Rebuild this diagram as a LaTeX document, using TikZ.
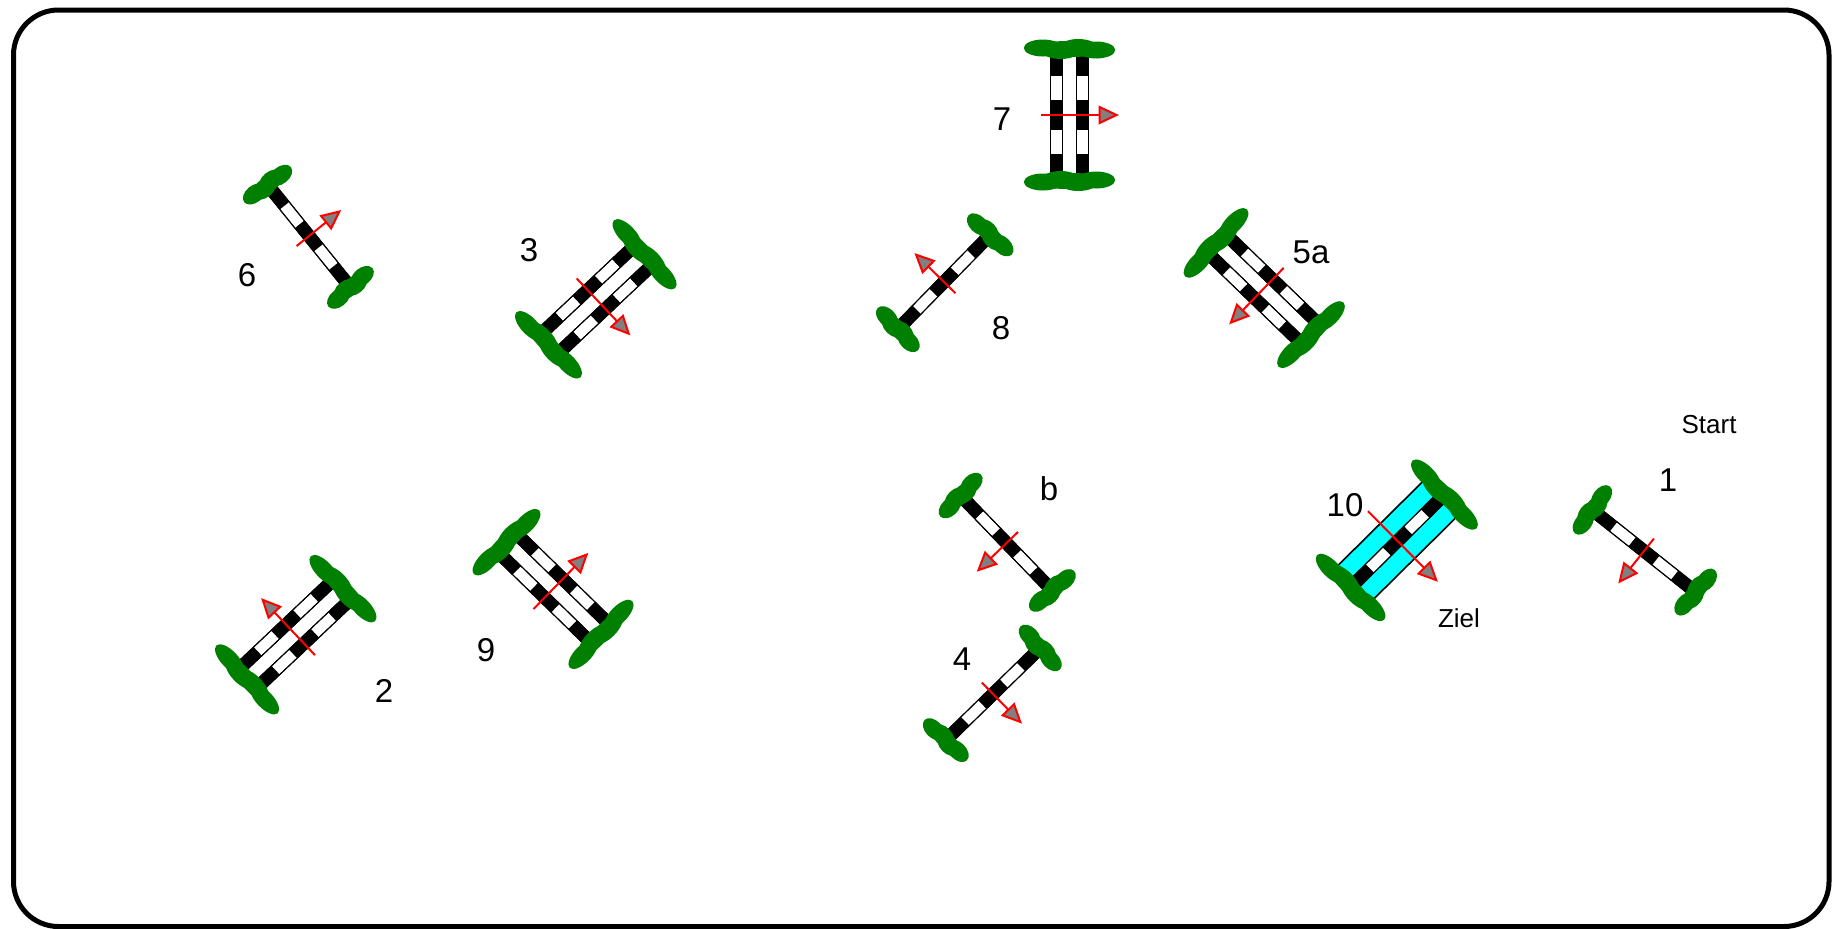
\documentclass[tikz,border=0pt]{standalone}
\usepackage{fontspec}
\setmainfont{Liberation Sans}
\usepackage{tikz}
\usepackage{xcolor}
\definecolor{wingGreen}{RGB}{0,128,0}
\definecolor{waterBlue}{RGB}{0,255,255}
\tikzset{%
	pole/.style       = {draw=black, line width=0.5pt, fill=white},
	wing/.style       = {fill=wingGreen},
	water/.style      = {draw=black, line width=0.8pt, fill=waterBlue},
	flight/.style     = {draw=red, line width=1pt},
	flighthead/.style = {draw=red, fill=gray, line width=1pt, line join=miter},
	jumpno/.style     = {font=\fontsize{16.5}{18}\selectfont, inner sep=0pt},
	note/.style       = {font=\fontsize{13}{15}\selectfont, inner sep=0pt},
}
\newcommand{\Pole}[1]{%
	\filldraw[pole] (-61,#1-6) rectangle (61,#1+6);
	\foreach \a/\b in {-61/-39,-15/15,39/61} \fill (\a,#1-6) rectangle (\b,#1+6);
	\draw[line width=0.5pt] (-61,#1-6) rectangle (61,#1+6);
}
\newcommand{\Wings}[1]{%
	\foreach \s in {-1,1} {
		\fill[wing] (\s*66,0) ellipse [x radius=8, y radius=#1];
		\foreach \t/\d in {-1/1,-0.33/-1.5,0.33/1.5,1/-1}
			\fill[wing] ({\s*(66+\d)},{\t*(0.62*#1)}) ellipse [x radius=8.5, y radius={0.35*#1+4}];
	}
}
\newcommand{\Flight}[2]{%
	\draw[flight] (0,#1) -- (0,#2-17);
	\filldraw[flighthead] (-8,#2-17) -- (8,#2-17) -- (0,#2) -- cycle;
}
\newcommand{\Single}[3]{\begin{scope}[shift={(#1,#2)},rotate=#3]
	\Pole{0} \Wings{26} \Flight{-16}{39}
\end{scope}}
\newcommand{\Oxer}[3]{\begin{scope}[shift={(#1,#2)},rotate=#3]
	\Pole{-13} \Pole{13} \Wings{43} \Flight{-29}{47}
\end{scope}}
\newcommand{\Water}[3]{\begin{scope}[shift={(#1,#2)},rotate=#3]
	\filldraw[water] (-61,-24.5) rectangle (61,24.5);
	\Pole{0} \Wings{44} \Flight{-42}{55}
\end{scope}}

\begin{document}
\begin{tikzpicture}[x=0.5pt,y=-0.5pt]
	\useasboundingbox (0,0) rectangle (1834,928);
	\draw[line width=2.5pt, rounded corners=22.5pt] (13.5,10) rectangle (1829,926.5);
	
	\foreach \cx/\cy/\ang in {309/236/128.9, 944/282/-134.4, 1006.5/543/-46, 993/694/44.3, 1644/551/-38.5} {\Single{\cx}{\cy}{\ang}}
	
	\foreach \cx/\cy/\ang in {596.5/299.5/43.3, 1263.5/288.75/-44, 1069.5/115/90, 295/634/-136.6, 553.75/588.25/135.7} {\Oxer{\cx}{\cy}{\ang}}
	
	\Water{1397.5}{541}{44.7}
	
	\node[jumpno] (n1) at (1668,480) {1};
	\node[jumpno] (n2) at (384,691) {2};
	\node[jumpno] (n3) at (529,250) {3};
	\node[jumpno] (n4) at (962,659) {4};
	\node[jumpno] (n5a) at (1311,252) {5a};
	\node[jumpno] (n5b) at (1049,489) {b};
	\node[jumpno] (n6) at (247,275) {6};
	\node[jumpno] (n7) at (1002,119) {7};
	\node[jumpno] (n8) at (1001,328) {8};
	\node[jumpno] (n9) at (486,650) {9};
	\node[jumpno] (n10) at (1345,505) {10};
	\node[note] (start) at (1709,425) {Start};
	\node[note] (ziel) at (1459,618) {Ziel};
\end{tikzpicture}
\end{document}
